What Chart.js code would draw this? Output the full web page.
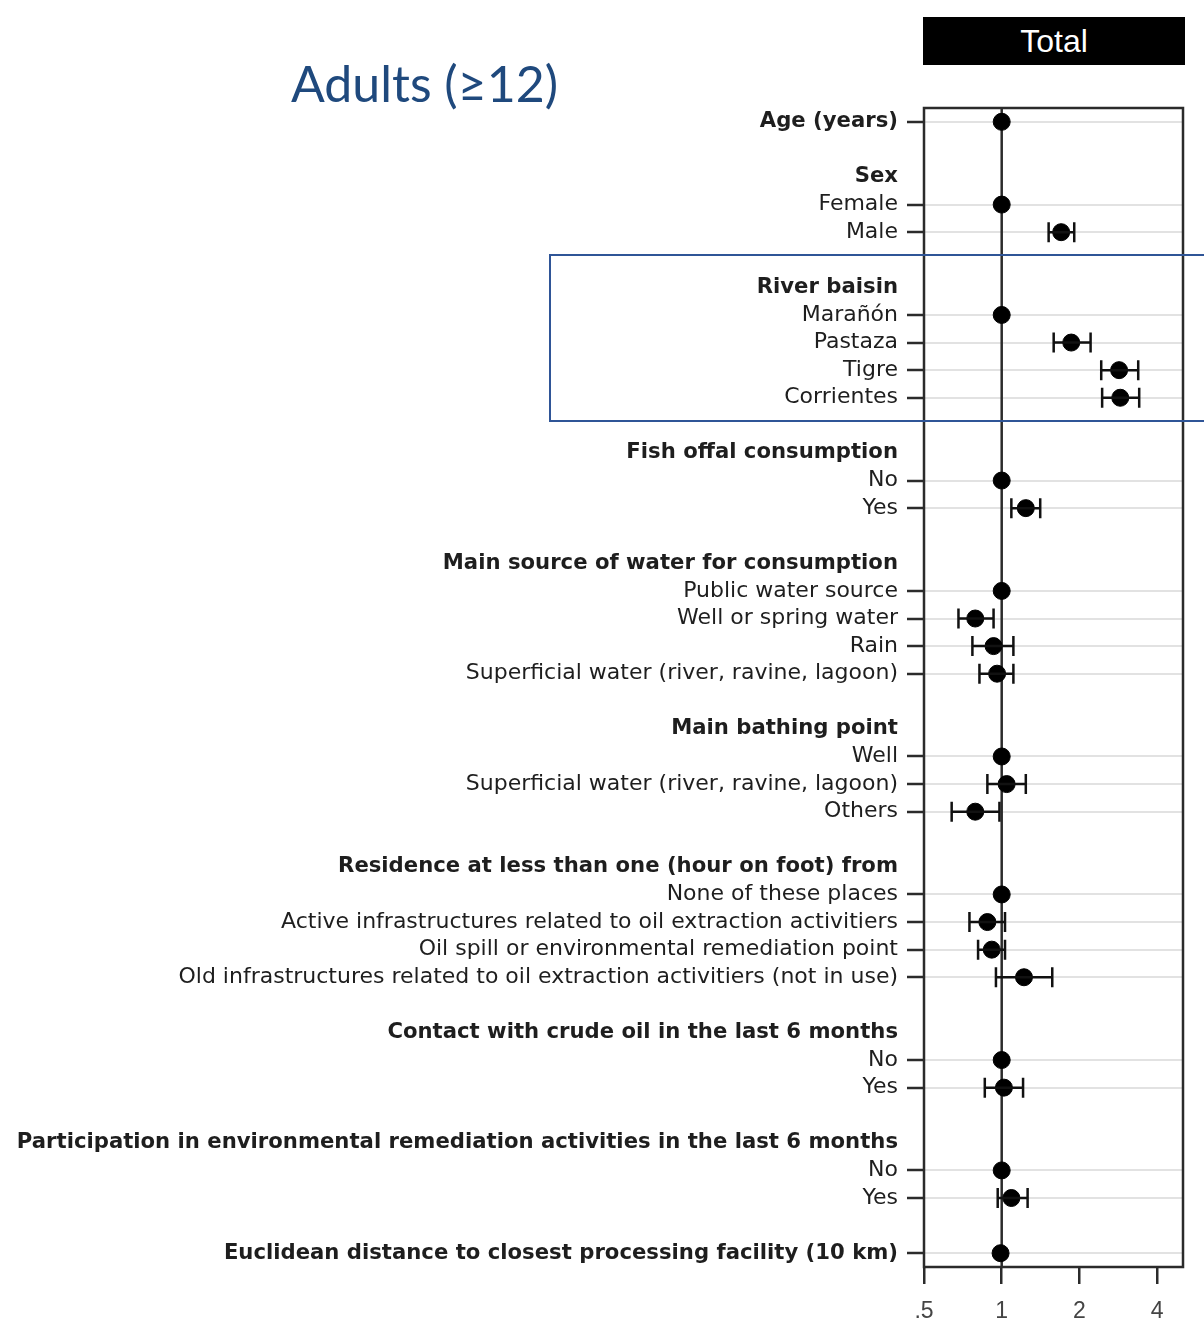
<!DOCTYPE html>
<html>
<head>
<meta charset="utf-8">
<script src="https://cdn.jsdelivr.net/npm/chart.js@4/dist/chart.umd.min.js"></script>
<style>
  html,body{margin:0;padding:0;background:#fff;}
  #wrap{position:relative;width:1204px;height:1322px;overflow:hidden;}
  #c{position:absolute;left:0;top:0;}
  #title{position:absolute;left:291px;top:53px;font-family:"Lato","Open Sans",sans-serif;font-size:50px;color:#1f497d;white-space:nowrap;}
  #total{position:absolute;left:923px;top:17px;width:262px;height:48px;background:#000;color:#fff;font-family:"Liberation Sans",Arial,sans-serif;font-size:32px;text-align:center;line-height:48px;}
  #hl{position:absolute;left:549px;top:254px;width:700px;height:164px;border:2px solid #2f5597;pointer-events:none;}
</style>
</head>
<body>
<div id="wrap">
  <canvas id="c" width="1204" height="1322"></canvas>
  <div id="title">Adults (≥12)</div>
  <div id="total">Total</div>
  <div id="hl"></div>
</div>
<script>
const rowLabels = [
  "Age (years)", "",
  "Sex", "Female", "Male", "",
  "River baisin", "Marañón", "Pastaza", "Tigre", "Corrientes", "",
  "Fish offal consumption", "No", "Yes", "",
  "Main source of water for consumption", "Public water source", "Well or spring water", "Rain", "Superficial water (river, ravine, lagoon)", "",
  "Main bathing point", "Well", "Superficial water (river, ravine, lagoon)", "Others", "",
  "Residence at less than one (hour on foot) from", "None of these places", "Active infrastructures related to oil extraction activitiers", "Oil spill or environmental remediation point", "Old infrastructures related to oil extraction activitiers (not in use)", "",
  "Contact with crude oil in the last 6 months", "No", "Yes", "",
  "Participation in environmental remediation activities in the last 6 months", "No", "Yes", "",
  "Euclidean distance to closest processing facility (10 km)"
];
const boldRows = [0, 2, 6, 12, 16, 22, 27, 33, 37, 41];
const estimates = [
  1.00, null,
  null, 1.00, 1.70, null,
  null, 1.00, 1.86, 2.85, 2.88, null,
  null, 1.00, 1.24, null,
  null, 1.00, 0.79, 0.93, 0.96, null,
  null, 1.00, 1.045, 0.79, null,
  null, 1.00, 0.88, 0.915, 1.22, null,
  null, 1.00, 1.02, null,
  null, 1.00, 1.09, null,
  0.99
];
const lowerCI = [
  null, null,
  null, null, 1.52, null,
  null, null, 1.59, 2.43, 2.45, null,
  null, null, 1.09, null,
  null, null, 0.68, 0.77, 0.82, null,
  null, null, 0.88, 0.64, null,
  null, null, 0.75, 0.81, 0.95, null,
  null, null, 0.86, null,
  null, null, 0.965, null,
  null
];
const upperCI = [
  null, null,
  null, null, 1.91, null,
  null, null, 2.21, 3.38, 3.41, null,
  null, null, 1.41, null,
  null, null, 0.93, 1.11, 1.11, null,
  null, null, 1.24, 0.98, null,
  null, null, 1.03, 1.03, 1.57, null,
  null, null, 1.21, null,
  null, null, 1.26, null,
  null
];
const xTicks = [0.5, 1, 2, 4];
const xTickLabels = [".5", "1", "2", "4"];
const xMin = 0.5, xMax = 5.04;
const refValue = 1;

const pointData = [];
estimates.forEach((v, i) => { if (v !== null) pointData.push({x: v, y: i}); });

const DARK = "#2b2b2b";
const LABEL_FONT = "'DejaVu Sans', 'Liberation Sans', Arial, sans-serif";

const errorBarPlugin = {
  id: "errorBars",
  beforeDatasetsDraw(chart) {
    const {ctx, chartArea} = chart;
    ctx.save();
    ctx.strokeStyle = DARK;
    ctx.lineWidth = 2.5;
    ctx.strokeRect(chartArea.left, chartArea.top, chartArea.right - chartArea.left, chartArea.bottom - chartArea.top);
    ctx.restore();
  },
  afterDatasetsDraw(chart) {
    const {ctx, scales} = chart;
    const xs = scales.x, ys = scales.y;
    ctx.save();
    ctx.strokeStyle = "#111";
    ctx.lineWidth = 2.5;
    const cap = 10;
    for (let i = 0; i < estimates.length; i++) {
      if (lowerCI[i] === null || upperCI[i] === null) continue;
      const y = ys.getPixelForValue(i);
      const x1 = xs.getPixelForValue(lowerCI[i]);
      const x2 = xs.getPixelForValue(upperCI[i]);
      ctx.beginPath();
      ctx.moveTo(x1, y); ctx.lineTo(x2, y);
      ctx.moveTo(x1, y - cap); ctx.lineTo(x1, y + cap);
      ctx.moveTo(x2, y - cap); ctx.lineTo(x2, y + cap);
      ctx.stroke();
    }
    ctx.restore();
  }
};

new Chart(document.getElementById("c"), {
  type: "scatter",
  data: {
    datasets: [
      {
        type: "line",
        data: [{x: refValue, y: -0.5}, {x: refValue, y: rowLabels.length - 0.5}],
        borderColor: DARK,
        borderWidth: 2.5,
        pointRadius: 0,
        order: 2
      },
      {
        data: pointData,
        backgroundColor: "#000",
        borderColor: "#000",
        pointRadius: 8.5,
        pointHoverRadius: 8.5,
        order: 1
      }
    ]
  },
  options: {
    responsive: false,
    animation: false,
    events: [],
    layout: {padding: {left: 0, right: 21, top: 108, bottom: 0}},
    plugins: {legend: {display: false}, tooltip: {enabled: false}},
    scales: {
      x: {
        type: "logarithmic",
        min: xMin,
        max: xMax,
        afterBuildTicks(scale) { scale.ticks = xTicks.map(v => ({value: v})); },
        afterFit(scale) { scale.height = 55; },
        border: {display: false},
        grid: {drawOnChartArea: false, drawTicks: true, tickLength: 17, color: DARK, lineWidth: 2.5},
        ticks: {
          autoSkip: false,
          maxRotation: 0,
          padding: 14,
          color: "#444",
          font: {family: "'Liberation Sans', Arial, sans-serif", size: 23},
          callback(value) {
            const k = xTicks.indexOf(value);
            return k >= 0 ? xTickLabels[k] : "";
          }
        }
      },
      y: {
        type: "linear",
        reverse: true,
        min: -0.5,
        max: rowLabels.length - 0.5,
        afterBuildTicks(scale) { scale.ticks = rowLabels.map((_, i) => ({value: i})); },
        afterFit(scale) { scale.width = 924; },
        border: {display: false},
        grid: {
          drawTicks: true,
          tickLength: 17,
          lineWidth: 2,
          color(ctx) { const i = ctx.tick ? ctx.tick.value : -1; return estimates[i] !== null && estimates[i] !== undefined ? "#e2e2e2" : "rgba(0,0,0,0)"; },
          tickColor(ctx) { const i = ctx.tick ? ctx.tick.value : -1; return estimates[i] !== null && estimates[i] !== undefined ? DARK : "rgba(0,0,0,0)"; },
          tickWidth: 2.5
        },
        ticks: {
          autoSkip: false,
          padding: 9,
          color: "#1e1e1e",
          font(ctx) {
            const i = ctx.tick ? ctx.tick.value : -1;
            const b = boldRows.includes(i);
            return {family: LABEL_FONT, size: b ? 21.2 : 22, weight: b ? "bold" : "normal"};
          },
          callback(value) { return rowLabels[value] || ""; }
        }
      }
    }
  },
  plugins: [errorBarPlugin]
});
</script>
</body>
</html>
